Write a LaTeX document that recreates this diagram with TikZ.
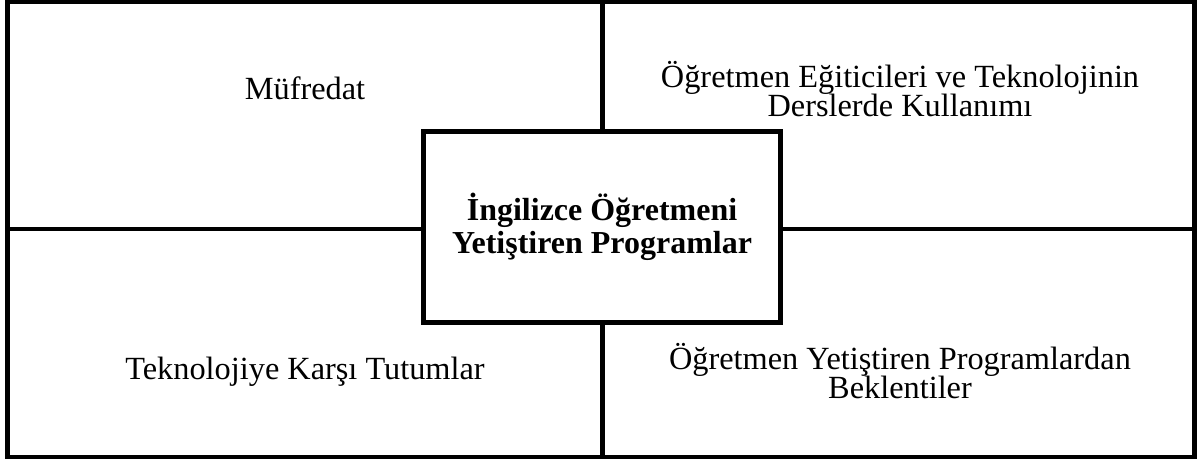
\documentclass[tikz,border=0pt]{standalone}
\usepackage{fontspec}
\setmainfont{Liberation Serif}
\usetikzlibrary{positioning}
\newcommand\tightlines{\lineskiplimit -20pt\relax}
\tikzset{
  frame/.style={line width=2.8pt},
  quarter/.style={align=center,
    font=\tightlines\fontsize{18.4}{17}\selectfont},
  hub/.style={draw,fill=white,line width=2.8pt,minimum width=7.14cm,
    minimum height=3.82cm,align=center,
    font=\tightlines\fontsize{18.2}{18.6}\selectfont\bfseries}
}

\begin{document}
\begin{tikzpicture}[x=0.02cm,y=-0.02cm]
  \useasboundingbox (0,0) rectangle (1197,461);

  \coordinate (sw) at (7.5,457);
  \coordinate (ne) at (1194.5,1.5);
  \coordinate (top) at (602.5,1.5);
  \coordinate (bottom) at (602.5,457);
  \coordinate (left) at (7.5,229);
  \coordinate (right) at (1194.5,229);

  % frame and dividers
  \draw[frame] (sw) rectangle (ne);
  \draw[frame] (top) -- (bottom);
  \draw[frame] (left) -- (right);

  % centre box
  \node[hub] (hub) at (602,227) {İngilizce Öğretmeni\\Yetiştiren Programlar};

  \node[quarter] (mufredat) at (305,88) {Müfredat};
  \node[quarter] (egiticiler) at (900,89)
    {Öğretmen Eğiticileri ve Teknolojinin\\Derslerde Kullanımı};
  \node[quarter] (tutumlar) at (305,372) {Teknolojiye Karşı Tutumlar};
  \node[quarter] (beklentiler) at (900,371)
    {Öğretmen Yetiştiren Programlardan\\Beklentiler};
\end{tikzpicture}
\end{document}
